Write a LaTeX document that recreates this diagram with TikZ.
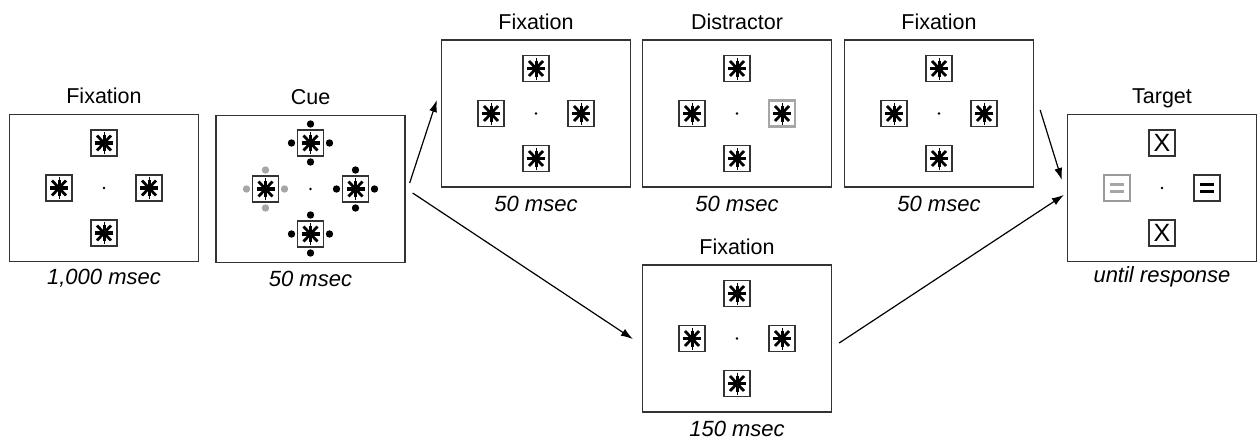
\documentclass[tikz,border=0pt]{standalone}
\usepackage{fontspec}
\setmainfont{Liberation Sans}
\usetikzlibrary{calc,arrows.meta}
\definecolor{lgray}{HTML}{A6A6A6}
\definecolor{mgray}{HTML}{9A9A9A}
\definecolor{edge}{HTML}{333333}
\newcommand\myast{%
  \draw[line width=1pt] (0,-11) -- (0,11);
  \draw[line width=3pt] (0,-8) -- (0,8);
  \draw[line width=3.2pt] (-9,0) -- (9,0);
  \draw[line width=2.8pt] (-7,-7.5) -- (7,7.5) (-7,7.5) -- (7,-7.5);
}
\tikzset{
  panel/.style={draw=edge, line width=1.3pt, minimum width=189pt, minimum height=147pt, inner sep=0pt},
  ttl/.style={font=\fontsize{21.5}{24}\selectfont, anchor=base, inner sep=0pt},
  dur/.style={font=\fontsize{22}{24}\selectfont\itshape, anchor=base, inner sep=0pt},
  arr/.style={line width=1.2pt, -{Latex[length=12pt,width=8pt]}},
  boxd/.style={draw=edge, line width=1.4pt, fill=white},
  stim/.pic={\draw[boxd] (-13,-13) rectangle (13,13); \myast},
  gstim/.pic={\draw[boxd, draw=lgray, line width=2.4pt] (-13,-13) rectangle (13,13); \myast},
  fixdot/.pic={\fill (0,0) circle (1.4);},
  cdots/.pic={\fill (0,-19) circle (3.7) (0,19) circle (3.7) (-19,0) circle (3.7) (19,0) circle (3.7);},
  fourstars/.pic={
    \pic at (0,-45) {stim}; \pic at (0,45) {stim};
    \pic at (-45,0) {stim}; \pic at (45,0) {stim};
    \pic at (0,0) {fixdot};}
}
\begin{document}
\begin{tikzpicture}[x=1pt,y=-1pt]
\useasboundingbox (0,0) rectangle (1258,439);
% panels
\node[panel] (p1) at (104,188) {};
\node[panel] (cue) at (310.5,189) {};
\node[panel] (p3) at (536,113.5) {};
\node[panel] (p4) at (737,113.5) {};
\node[panel] (p5) at (939,113.5) {};
\node[panel] (tg) at (1162,188) {};
\node[panel] (p7) at (737,338.5) {};
% titles
\node[ttl] (t1) at ($(p1.north)+(0,-10)$) {Fixation};
\node[ttl] (t2) at ($(cue.north)+(0,-10)$) {Cue};
\node[ttl] (t3) at ($(p3.north)+(0,-10)$) {Fixation};
\node[ttl] (t4) at ($(p4.north)+(0,-10)$) {Distractor};
\node[ttl] (t5) at ($(p5.north)+(0,-10)$) {Fixation};
\node[ttl] (t6) at ($(tg.north)+(0,-10)$) {Target};
\node[ttl] (t7) at ($(p7.north)+(0,-10)$) {Fixation};
% durations
\node[dur] (d1) at ($(p1.south)+(0,22)$) {1,000 msec};
\node[dur] (d2) at ($(cue.south)+(0,23)$) {50 msec};
\node[dur] (d3) at ($(p3.south)+(0,24)$) {50 msec};
\node[dur] (d4) at ($(p4.south)+(0,24)$) {50 msec};
\node[dur] (d5) at ($(p5.south)+(0,24)$) {50 msec};
\node[dur] (d6) at ($(tg.south)+(0,20)$) {until response};
\node[dur] (d7) at ($(p7.south)+(0,24)$) {150 msec};
% contents
\pic at (p1.center) {fourstars};
\pic at (p3.center) {fourstars};
\pic at (p5.center) {fourstars};
\pic at (p7.center) {fourstars};
% cue panel
\begin{scope}[shift={(cue.center)}]
  \pic at (0,0) {fixdot};
  \pic at (0,-46) {cdots}; \pic at (0,45) {cdots}; \pic at (45,0) {cdots};
  \begin{scope}[lgray]\pic at (-45,0) {cdots};\end{scope}
  \pic at (0,-46) {stim}; \pic at (0,45) {stim};
  \pic at (-45,0) {stim}; \pic at (45,0) {stim};
\end{scope}
% distractor panel
\begin{scope}[shift={(p4.center)}]
  \pic at (0,-45) {stim}; \pic at (0,45) {stim};
  \pic at (-45,0) {stim}; \pic at (45,0) {gstim};
  \pic at (0,0) {fixdot};
\end{scope}
% target panel
\begin{scope}[shift={(tg.center)}]
  \draw[boxd] (-13,-58) rectangle (13,-32);
  \node[font=\fontsize{25}{26}\selectfont, inner sep=0pt] (x1) at (0,-45) {X};
  \draw[boxd] (-13,32) rectangle (13,58);
  \node[font=\fontsize{25}{26}\selectfont, inner sep=0pt] (x2) at (0,45) {X};
  \draw[boxd, draw=mgray] (-58,-13) rectangle (-32,13);
  \draw[lgray, line width=2.4pt] (-52,-3.4) -- (-38,-3.4) (-52,3.4) -- (-38,3.4);
  \draw[boxd] (32,-13) rectangle (58,13);
  \draw[line width=2.8pt] (38,-3.6) -- (52,-3.6) (38,3.6) -- (52,3.6);
  \pic at (0,0) {fixdot};
\end{scope}
% connectors
\coordinate (a1s) at ($(cue.east)+(4,-6)$);
\coordinate (a1e) at ($(p3.west)+(-4,-13.5)$);
\coordinate (a2s) at ($(cue.east)+(7,4)$);
\coordinate (a2e) at ($(p7.west)+(-9,0.5)$);
\coordinate (a3s) at ($(p5.east)+(6,-3.5)$);
\coordinate (a3e) at ($(tg.west)+(-5,-8)$);
\coordinate (a4s) at ($(p7.east)+(7,4.5)$);
\coordinate (a4e) at ($(tg.west)+(-3,7)$);
\draw[arr] (a1s) -- (a1e);
\draw[arr] (a2s) -- (a2e);
\draw[arr] (a3s) -- (a3e);
\draw[arr] (a4s) -- (a4e);
\end{tikzpicture}
\end{document}
